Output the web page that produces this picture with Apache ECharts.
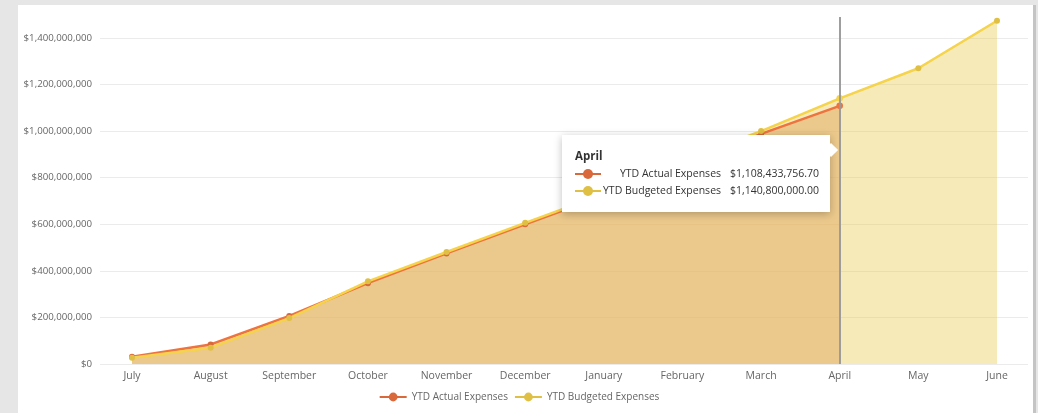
<!DOCTYPE html>
<html>
<head>
<meta charset="utf-8">
<script src="https://cdn.jsdelivr.net/npm/echarts@6/dist/echarts.min.js"></script>
<style>
  html, body { margin: 0; padding: 0; background: #e6e6e6; }
  .card {
    position: absolute; left: 18px; top: 5px; width: 1015px; height: 420px;
    background: #fff; border-right: 3px solid #c4c4c4;
  }
  #chart { position: absolute; left: 0; top: 0; width: 1038px; height: 413px; }
</style>
</head>
<body>
<div class="card"></div>
<div id="chart"></div>
<script>
const months = ["July", "August", "September", "October", "November", "December",
  "January", "February", "March", "April", "May", "June"];
const actualExpenses = [31000000, 84000000, 206000000, 347000000, 475000000, 600000000,
  723000000, 862000000, 988000000, 1108433756.70, null, null];
const budgetedExpenses = [27000000, 70000000, 197000000, 355000000, 481000000, 606000000,
  730000000, 875000000, 1000000000, 1140800000, 1270000000, 1474000000];
const yTicks = [0, 200000000, 400000000, 600000000, 800000000, 1000000000, 1200000000, 1400000000];

const actualColor = "#d9693a";
const budgetColor = "#dfc044";
const font = "'Open Sans', 'Noto Sans', sans-serif";

const myChart = echarts.init(document.getElementById("chart"));

function money(v, dec) {
  return "$" + v.toLocaleString("en-US", { minimumFractionDigits: dec, maximumFractionDigits: dec });
}

function icon(c) {
  return '<span style="display:inline-block;position:relative;width:26px;height:10px;vertical-align:middle">' +
    '<span style="position:absolute;left:0;top:4px;width:26px;height:2px;background:' + c + '"></span>' +
    '<span style="position:absolute;left:8px;top:0;width:10px;height:10px;border-radius:5px;background:' + c + '"></span></span>';
}

const option = {
  animation: false,
  textStyle: { fontFamily: font },
  grid: [
    { left: 100, right: 10, top: 17, bottom: 49 },
    { left: 132, right: 41, top: 17, bottom: 49 },
  ],
  legend: {
    bottom: 6,
    itemGap: 6,
    itemWidth: 27,
    itemHeight: 11,
    data: ["YTD Actual Expenses", "YTD Budgeted Expenses"],
    textStyle: { color: "#666", fontSize: 10, fontFamily: font },
  },
  tooltip: {
    trigger: "axis",
    triggerOn: "none",
    alwaysShowContent: true,
    transitionDuration: 0,
    position: [562, 135],
    padding: [13, 11, 13, 13],
    backgroundColor: "#fff",
    borderWidth: 0,
    extraCssText: "box-shadow:0 2px 8px rgba(0,0,0,0.25);border-radius:0;",
    axisPointer: { type: "line", lineStyle: { color: "#999", width: 1.5, type: "solid" } },
    formatter: function (params) {
      const i = params[0].dataIndex;
      const td = 'style="padding:0;height:17px;line-height:17px;font-size:10.5px;color:#333;white-space:nowrap;';
      return '<div style="position:relative;font-family:' + font + '">' +
        '<div style="position:absolute;right:-17px;top:-3px;width:10px;height:10px;background:#fff;transform:rotate(45deg)"></div>' +
        '<div style="font-weight:bold;font-size:11.5px;line-height:16px;color:#333;margin-bottom:1px">' + months[i] + '</div>' +
        '<table style="border-collapse:collapse">' +
        '<tr><td ' + td + '">' + icon(actualColor) + '</td><td ' + td + 'text-align:right;padding-left:2px;padding-right:9px">YTD Actual Expenses</td><td ' + td + 'text-align:right">' + money(actualExpenses[i], 2) + '</td></tr>' +
        '<tr><td ' + td + '">' + icon(budgetColor) + '</td><td ' + td + 'text-align:right;padding-left:2px;padding-right:9px">YTD Budgeted Expenses</td><td ' + td + 'text-align:right">' + money(budgetedExpenses[i], 2) + '</td></tr>' +
        '</table></div>';
    },
  },
  xAxis: [
    { type: "value", gridIndex: 0, show: false, min: 0, max: 1 },
    {
      type: "category",
      gridIndex: 1,
      boundaryGap: false,
      data: months,
      axisLine: { show: false },
      axisTick: { show: false },
      axisLabel: { color: "#666", fontSize: 10.5, margin: 7, fontFamily: font },
    },
  ],
  yAxis: [
    {
      type: "value",
      gridIndex: 0,
      min: 0,
      max: 1490000000,
      interval: 200000000,
      axisLine: { show: false },
      axisTick: { show: false },
      axisLabel: {
        color: "#666",
        fontSize: 9.7,
        margin: 8,
        fontFamily: font,
        formatter: function (v) {
          return yTicks.indexOf(v) >= 0 ? money(v, 0) : "";
        },
      },
      splitLine: {
        lineStyle: {
          color: ["#ebebeb", "#ebebeb", "#ebebeb", "#ebebeb", "#ebebeb", "#ebebeb", "#ebebeb", "#ebebeb", "rgba(0,0,0,0)"],
          width: 1,
        },
      },
    },
    { type: "value", gridIndex: 1, show: false, min: 0, max: 1490000000, splitLine: { show: false } },
  ],
  series: [
    {
      name: "budget area",
      type: "line",
      xAxisIndex: 1,
      yAxisIndex: 1,
      data: budgetedExpenses,
      symbol: "none",
      silent: true,
      z: 1,
      lineStyle: { width: 0 },
      areaStyle: { color: "rgba(215,188,80,0.42)", opacity: 1 },
    },
    {
      name: "actual area",
      type: "line",
      xAxisIndex: 1,
      yAxisIndex: 1,
      data: actualExpenses,
      symbol: "none",
      silent: true,
      z: 1,
      lineStyle: { width: 0 },
      areaStyle: { color: "rgba(208,160,98,0.58)", opacity: 1 },
    },
    {
      name: "YTD Actual Expenses",
      type: "line",
      xAxisIndex: 1,
      yAxisIndex: 1,
      data: actualExpenses,
      color: actualColor,
      symbol: "circle",
      symbolSize: 6,
      showAllSymbol: true,
      z: 3,
      lineStyle: { width: 2.5 },
    },
    {
      name: "YTD Budgeted Expenses",
      type: "line",
      xAxisIndex: 1,
      yAxisIndex: 1,
      data: budgetedExpenses,
      color: budgetColor,
      symbol: "circle",
      symbolSize: 6,
      showAllSymbol: true,
      z: 4,
      lineStyle: { width: 2.5 },
    },
  ],
};

myChart.setOption(option);
myChart.dispatchAction({ type: "showTip", seriesIndex: 2, dataIndex: 9 });
</script>
</body>
</html>
